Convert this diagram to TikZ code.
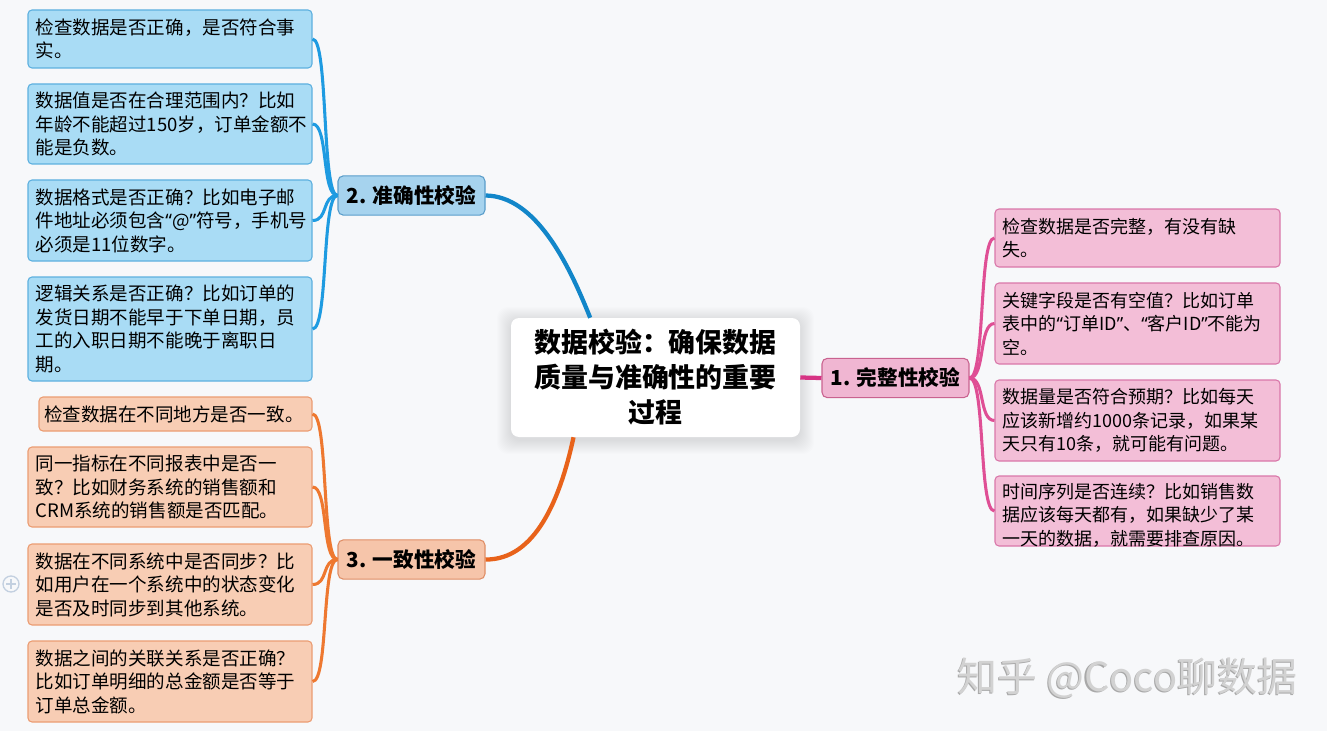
\documentclass[tikz,border=0pt]{standalone}
\usepackage{fontspec}
\setmainfont{Noto Sans CJK SC}
\newfontfamily\latinf{Noto Sans}
\definecolor{bgc}{HTML}{F7F8FA}
\definecolor{bluefill}{HTML}{A9DCF5}
\definecolor{blueedge}{HTML}{5DB0DF}
\definecolor{bluenodefill}{HTML}{A6D3EE}
\definecolor{bluenodeedge}{HTML}{5A9DCA}
\definecolor{bluemainc}{HTML}{1286C9}
\definecolor{bluethinc}{HTML}{1E9BE1}
\definecolor{orfill}{HTML}{F8CDB4}
\definecolor{oredge}{HTML}{EB9C72}
\definecolor{ornodefill}{HTML}{F6C5AA}
\definecolor{ornodeedge}{HTML}{E08E66}
\definecolor{ormainc}{HTML}{E8621A}
\definecolor{orthinc}{HTML}{EE7830}
\definecolor{pkfill}{HTML}{F3BED7}
\definecolor{pkedge}{HTML}{D977A9}
\definecolor{pknodefill}{HTML}{F0B6D2}
\definecolor{pknodeedge}{HTML}{C9628F}
\definecolor{pkmainc}{HTML}{D63384}
\definecolor{pkthinc}{HTML}{DF4F95}
\definecolor{wmc}{HTML}{D2D2D2}
\definecolor{wmdark}{HTML}{A8A8A8}
\definecolor{iconc}{HTML}{C3D0E0}
\begin{document}
\begin{tikzpicture}[x=0.75pt,y=-0.75pt,
  leafbox/.style={draw, line width=0.8pt, rounded corners=3pt, inner sep=0pt, minimum width=213pt},
  blueleaf/.style={leafbox, fill=bluefill, draw=blueedge},
  orleaf/.style={leafbox, fill=orfill, draw=oredge},
  pkleaf/.style={leafbox, fill=pkfill, draw=pkedge, minimum width=213.75pt},
  lefttext/.style={anchor=west, inner sep=0pt, align=left, font=\fontsize{13.9}{17.6}\selectfont},
  righttext/.style={anchor=west, inner sep=0pt, align=left, font=\fontsize{13.5}{17.6}\selectfont},
  branch/.style={draw, line width=0.8pt, rounded corners=4pt, minimum width=110.25pt, minimum height=29.5pt, inner sep=0pt, font=\fontsize{15.5}{18}\selectfont\bfseries},
  bluethin/.style={draw=bluethinc, line width=2.3pt},
  orthin/.style={draw=orthinc, line width=2.3pt},
  pkthin/.style={draw=pkthinc, line width=2.3pt},
  mainline/.style={line width=3.2pt}
]
\useasboundingbox[fill=bgc] (0,0) rectangle (1327,731);

% soft shadow of the central topic
\foreach \i in {1,...,14}
  \fill[black, opacity=0.007, rounded corners=8pt] (511-\i,318-\i+3) rectangle (800+\i,437+\i+3);

% center
\node[fill=white, rounded corners=6pt, minimum width=216.75pt, minimum height=89.25pt, inner sep=0pt,
  align=center, font=\fontsize{20.2}{26.25}\selectfont\bfseries] (c) at (655.5,377.5)
  {数据校验：确保数据\\质量与准确性的重要\\过程};

% branch nodes
\node[branch, fill=bluenodefill, draw=bluenodeedge] (bn) at (411.5,195.5) {2. 准确性校验};
\node[branch, fill=ornodefill, draw=ornodeedge] (on) at (411.5,559.5) {3. 一致性校验};
\node[branch, fill=pknodefill, draw=pknodeedge] (pn) at (895.5,378) {1. 完整性校验};

% blue leaves
\node[blueleaf, minimum height=43.5pt] (b1) at (170,39) {};
\node[lefttext] at ([xshift=6pt]b1.west) {检查数据是否正确，是否符合事\\实。};
\node[blueleaf, minimum height=60pt] (b2) at (170,124) {};
\node[lefttext] at ([xshift=6pt]b2.west) {数据值是否在合理范围内？比如\\年龄不能超过150岁，订单金额不\\能是负数。};
\node[blueleaf, minimum height=60.75pt] (b3) at (170,220.5) {};
\node[lefttext] at ([xshift=6pt]b3.west) {数据格式是否正确？比如电子邮\\件地址必须包含{\latinf “}@{\latinf ”}符号，手机号\\必须是11位数字。};
\node[blueleaf, minimum height=78pt] (b4) at (170,329) {};
\node[lefttext] at ([xshift=6pt]b4.west) {逻辑关系是否正确？比如订单的\\发货日期不能早于下单日期，员\\工的入职日期不能晚于离职日\\期。};

% orange leaves
\node[orleaf, minimum width=204.75pt, minimum height=25.5pt] (o1) at (175.5,414) {};
\node[lefttext] at ([xshift=4pt]o1.west) {检查数据在不同地方是否一致。};
\node[orleaf, minimum height=60pt] (o2) at (170,487) {};
\node[lefttext] at ([xshift=6pt]o2.west) {同一指标在不同报表中是否一\\致？比如财务系统的销售额和\\CRM系统的销售额是否匹配。};
\node[orleaf, minimum height=60.75pt] (o3) at (170,584.5) {};
\node[lefttext] at ([xshift=6pt]o3.west) {数据在不同系统中是否同步？比\\如用户在一个系统中的状态变化\\是否及时同步到其他系统。};
\node[orleaf, minimum height=60.75pt] (o4) at (170,681.5) {};
\node[lefttext] at ([xshift=6pt]o4.west) {数据之间的关联关系是否正确？\\比如订单明细的总金额是否等于\\订单总金额。};

% pink leaves
\node[pkleaf, minimum height=43.5pt] (p1) at (1137.5,238) {};
\node[righttext] at ([xshift=6pt]p1.west) {检查数据是否完整，有没有缺\\失。};
\node[pkleaf, minimum height=60.75pt] (p2) at (1137.5,323.5) {};
\node[righttext] at ([xshift=6pt]p2.west) {关键字段是否有空值？比如订单\\表中的{\latinf “}订单ID{\latinf ”}、{\latinf “}客户ID{\latinf ”}不能为\\空。};
\node[pkleaf, minimum height=60.75pt] (p3) at (1137.5,420.5) {};
\node[righttext] at ([xshift=6pt]p3.west) {数据量是否符合预期？比如每天\\应该新增约1000条记录，如果某\\天只有10条，就可能有问题。};
\node[pkleaf, minimum height=52.5pt] (p4) at (1137.5,511) {};
\node[righttext] at ([xshift=6pt,yshift=-3pt]p4.west) {时间序列是否连续？比如销售数\\据应该每天都有，如果缺少了某\\一天的数据，就需要排查原因。};

% main connectors
\draw[mainline, bluemainc] (bn.east) .. controls (535,196) and (568,262) .. ([xshift=-49pt]c.north);
\draw[mainline, ormainc] (on.east) .. controls (535,560) and (560,500) .. ([xshift=-61.5pt]c.south);
\draw[mainline, pkmainc] (c.east) -- (pn.west);

% leaf connectors
\foreach \n in {b1,b2,b3,b4}
  \draw[bluethin] (bn.west) .. controls +(-16,0) and +(16,0) .. (\n.east);
\foreach \n in {o1,o2,o3,o4}
  \draw[orthin] (on.west) .. controls +(-16,0) and +(16,0) .. (\n.east);
\foreach \n in {p1,p2,p3,p4}
  \draw[pkthin] (pn.east) .. controls +(16,0) and +(-16,0) .. (\n.west);

% collapse icon
\node[circle, draw=iconc, line width=1pt, minimum size=12pt, inner sep=0pt] (plus) at (11,584) {};
\draw[iconc, line width=1pt] ([xshift=-3.5pt]plus.center) -- ([xshift=3.5pt]plus.center);
\draw[iconc, line width=1pt] ([yshift=-3.5pt]plus.center) -- ([yshift=3.5pt]plus.center);

% watermark
\node[text=wmdark, font=\fontsize{30}{30}\selectfont] (wmshadow) at (1126.2,679.2) {知乎 @Coco聊数据};
\node[text=wmc, font=\fontsize{30}{30}\selectfont] (wm) at (1127.5,678) {知乎 @Coco聊数据};
\end{tikzpicture}
\end{document}
